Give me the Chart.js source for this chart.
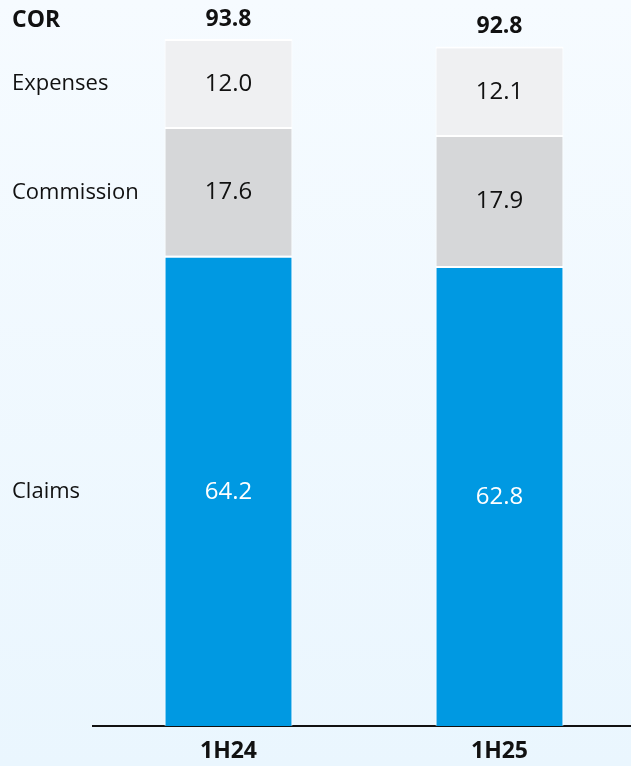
<!DOCTYPE html>
<html><head><meta charset="utf-8">
<script src="https://cdn.jsdelivr.net/npm/chart.js@4"></script>
<style>
html,body{margin:0;padding:0;overflow:hidden;}
body{width:631px;height:766px;background:linear-gradient(180deg,#F6FBFF 0%,#EAF6FE 100%);}
#wrap{width:631px;height:766px;position:relative;overflow:hidden;}
</style></head><body>
<div id="wrap"><canvas id="c" width="635" height="766"></canvas></div>
<script>
const categories = ["1H24", "1H25"];
const claims = [64.2, 62.8];
const commission = [17.6, 17.9];
const expenses = [12.0, 12.1];
const cor = [93.8, 92.8];
const seriesNames = ["Claims", "Commission", "Expenses"];

const FONT = "'Open Sans', sans-serif";

const labelPlugin = {
  id: 'labels',
  afterDatasetsDraw(chart) {
    const ctx = chart.ctx;
    ctx.save();
    ctx.textAlign = 'center';
    ctx.textBaseline = 'middle';
    const colors = ['#ffffff', '#111111', '#111111'];
    chart.data.datasets.forEach((ds, di) => {
      const meta = chart.getDatasetMeta(di);
      meta.data.forEach((bar, i) => {
        const cy = (bar.y + bar.base) / 2;
        ctx.font = "400 24px " + FONT;
        ctx.fillStyle = colors[di];
        ctx.fillText(ds.data[i].toFixed(1), bar.x, cy + 1);
        if (i === 0) {
          ctx.textAlign = 'left';
          ctx.fillStyle = '#111111';
          ctx.font = "400 22px " + FONT;
          ctx.fillText(seriesNames[di], 12, cy + 1);
          ctx.textAlign = 'center';
        }
      });
    });
    const topMeta = chart.getDatasetMeta(2);
    topMeta.data.forEach((bar, i) => {
      ctx.font = "700 23px " + FONT;
      ctx.fillStyle = '#111111';
      ctx.fillText(cor[i].toFixed(1), bar.x, bar.y - 20);
      if (i === 0) {
        ctx.textAlign = 'left';
        ctx.fillText("COR", 12, bar.y - 19);
        ctx.textAlign = 'center';
      }
    });
    ctx.restore();
  }
};

const border = {top: 2, left: 1, right: 1, bottom: 0};
new Chart(document.getElementById('c'), {
  type: 'bar',
  data: {
    labels: categories,
    datasets: [
      {label: seriesNames[0], data: claims, backgroundColor: '#0099E2', borderColor: '#ffffff', borderWidth: border, borderSkipped: false},
      {label: seriesNames[1], data: commission, backgroundColor: '#D6D7D9', borderColor: '#ffffff', borderWidth: border, borderSkipped: false},
      {label: seriesNames[2], data: expenses, backgroundColor: '#EFF0F2', borderColor: '#ffffff', borderWidth: border, borderSkipped: false}
    ]
  },
  options: {
    responsive: false,
    animation: false,
    layout: {padding: {left: 93, top: 1, right: 0, bottom: 0}},
    plugins: {legend: {display: false}, tooltip: {enabled: false}},
    datasets: {bar: {categoryPercentage: 1.0, barPercentage: 0.472}},
    scales: {
      x: {
        stacked: true,
        grid: {display: false, drawTicks: false},
        border: {display: true, color: '#111111', width: 2},
        ticks: {color: '#111111', font: {family: FONT, size: 23, weight: '700'}, padding: 12},
        afterFit(s) { s.height = 40; }
      },
      y: {
        stacked: true,
        display: false,
        min: 0,
        max: 99
      }
    }
  },
  plugins: [labelPlugin]
});
</script>
</body></html>
